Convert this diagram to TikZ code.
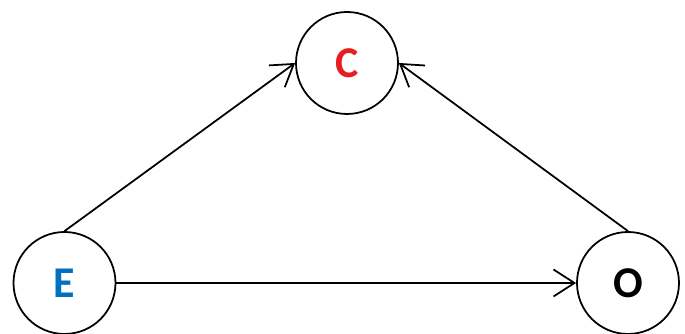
\documentclass[tikz,border=0pt]{standalone}
\usepackage{fontspec}
\setmainfont{Carlito}
\usetikzlibrary{arrows.meta,positioning}

\begin{document}
\begin{tikzpicture}[
  font=\fontsize{25}{29}\selectfont\bfseries,
  var/.style={draw, circle, line width=1pt, minimum size=2.04cm, inner sep=0pt},
  arr/.style={-{Straight Barb[length=4.2mm, width=5.4mm]}, line width=1pt}
]
\useasboundingbox (0,0) rectangle (13.7,6.68);
\node[var, text={rgb,255:red,230;green,30;blue,36}] (c) at (6.94,5.42) {C};
\node[var, text={rgb,255:red,0;green,112;blue,192}] (e) at (1.29,1.02) {E};
\node[var] (o) at (12.56,1.02) {O};
\draw[arr] (e.north)--(c.west);
\draw[arr] (o.north)--(c.east);
\draw[arr] (e)--(o);
\end{tikzpicture}
\end{document}
